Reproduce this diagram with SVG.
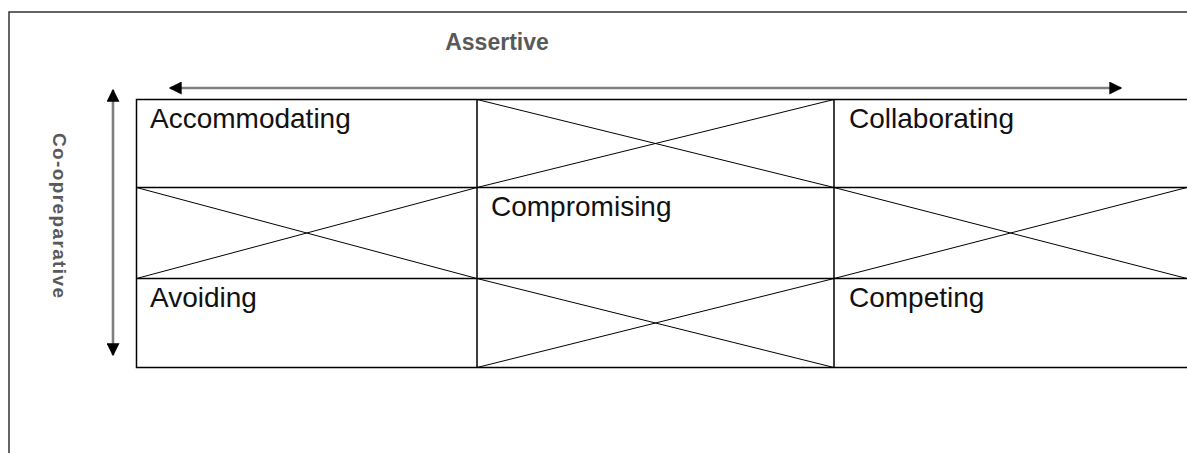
<svg xmlns="http://www.w3.org/2000/svg" width="1187" height="453" viewBox="0 0 1187 453">
<style>
.frame{fill:none;stroke:#333;stroke-width:1.5}
.grid{fill:none;stroke:#000;stroke-width:1.5}
.diag{stroke:#000;stroke-width:1}
.axis{stroke:#7f7f7f;stroke-width:2.6;fill:none}
.lbl{font-family:"Liberation Sans",Arial,sans-serif;font-size:28px;fill:#111}
.ax{font-family:"Liberation Sans",Arial,sans-serif;font-weight:bold;fill:#595959}
</style>
<defs>
<marker id="ah" viewBox="0 0 10 10" refX="9" refY="5" markerWidth="15" markerHeight="13" markerUnits="userSpaceOnUse" orient="auto-start-reverse">
<path d="M0,0 L10,5 L0,10 z" fill="#000"/>
</marker>
</defs>
<rect width="1187" height="453" fill="#fff"/>
<path class="frame" d="M9,453 V12 H1187"/>
<g id="connectors">
<line class="axis" x1="170" y1="88" x2="1121" y2="88" marker-start="url(#ah)" marker-end="url(#ah)"/>
<line class="axis" x1="113" y1="90" x2="113" y2="355" marker-start="url(#ah)" marker-end="url(#ah)"/>
</g>
<g id="grid">
<path class="grid" d="M1187,99.5 H136.5 V367.5 H1187 M136.5,187.5 H1187 M136.5,278.5 H1187 M477,99.5 V367.5 M834,99.5 V367.5"/>
</g>
<g id="accommodating"><text class="lbl" x="150" y="128">Accommodating</text></g>
<g id="cross-top"><line class="diag" x1="477" y1="99.5" x2="834" y2="187.5"/><line class="diag" x1="477" y1="187.5" x2="834" y2="99.5"/></g>
<g id="collaborating"><text class="lbl" x="849" y="128">Collaborating</text></g>
<g id="cross-left"><line class="diag" x1="136.5" y1="187.5" x2="477" y2="278.5"/><line class="diag" x1="136.5" y1="278.5" x2="477" y2="187.5"/></g>
<g id="compromising"><text class="lbl" x="491" y="216">Compromising</text></g>
<g id="cross-right"><line class="diag" x1="834" y1="187.5" x2="1187" y2="278.5"/><line class="diag" x1="834" y1="278.5" x2="1187" y2="187.5"/></g>
<g id="avoiding"><text class="lbl" x="150" y="307">Avoiding</text></g>
<g id="cross-bottom"><line class="diag" x1="477" y1="278.5" x2="834" y2="367.5"/><line class="diag" x1="477" y1="367.5" x2="834" y2="278.5"/></g>
<g id="competing"><text class="lbl" x="849" y="307">Competing</text></g>
<g id="assertive"><text class="ax" x="497" y="50" font-size="23" text-anchor="middle">Assertive</text></g>
<g id="cooperative"><text class="ax" font-size="19" transform="translate(53,133) rotate(90)" textLength="165" lengthAdjust="spacing">Co-opreparative</text></g>
</svg>
